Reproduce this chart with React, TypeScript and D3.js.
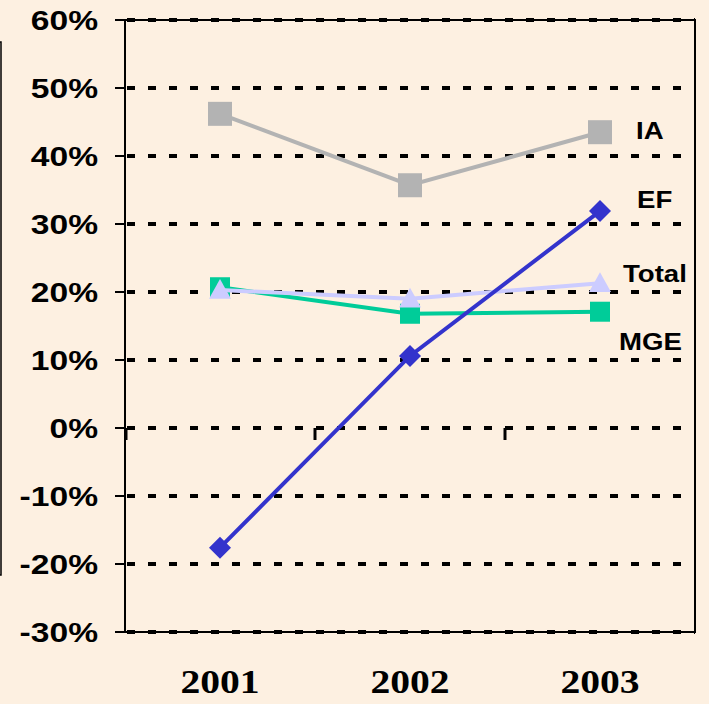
import React from "react";
import * as d3 from "d3";

const years = ["2001", "2002", "2003"];
const yTicks = [60, 50, 40, 30, 20, 10, 0, -10, -20, -30];
const iaValues = [46.2, 35.7, 43.5];
const efValues = [-17.6, 10.6, 31.9];
const totalValues = [20.3, 19.0, 21.3];
const mgeValues = [20.7, 16.8, 17.1];

const W = 709, H = 704;
const left = 125, right = 695, top = 20, bottom = 632;
const bg = "#fdf0e1";

const series = [
  { name: "IA", values: iaValues, color: "#b3b3b3", marker: "square", size: 24, lx: 636, ly: 139 },
  { name: "MGE", values: mgeValues, color: "#00cc99", marker: "square", size: 20, lx: 619, ly: 350 },
  { name: "Total", values: totalValues, color: "#ccccff", marker: "triangle", size: 22, lx: 623, ly: 282 },
  { name: "EF", values: efValues, color: "#3333cc", marker: "diamond", size: 20, lx: 637, ly: 208 },
];

export default function App() {
  const x = d3.scaleBand().domain(years).range([left, right]);
  const y = d3.scaleLinear().domain([-30, 60]).range([bottom, top]);
  const cx = (i: number) => (x(years[i]) as number) + x.bandwidth() / 2;

  const line = d3.line<number>().x((_, i) => cx(i)).y(v => y(v));

  const marker = (s: typeof series[0], v: number, i: number) => {
    const px = cx(i), py = y(v), r = s.size / 2;
    if (s.marker === "square")
      return <rect key={i} x={px - r} y={py - r} width={s.size} height={s.size} fill={s.color} />;
    if (s.marker === "diamond") {
      const d = r * 1.1;
      return <path key={i} d={`M${px},${py - d}L${px + d},${py}L${px},${py + d}L${px - d},${py}Z`} fill={s.color} />;
    }
    return <path key={i} d={`M${px},${py - r}L${px + r},${py + r * 0.8}L${px - r},${py + r * 0.8}Z`} fill={s.color} />;
  };

  const stretch = (tx: number, ty: number) => `translate(${tx},${ty}) scale(1.2,1)`;

  return (
    <svg width={W} height={H} style={{ position: "absolute", left: 0, top: 0, background: bg }}>
      <rect width={W} height={H} fill={bg} />
      {/* left frame fragment */}
      <rect x={-20} y={42} width={21} height={533} fill="none" stroke="#000" strokeWidth={1.5} />

      {/* plot frame */}
      <rect x={left} y={top} width={right - left} height={bottom - top} fill="none" stroke="#000" strokeWidth={2} />

      {/* gridlines */}
      {yTicks.map(t => (
        <g key={t}>
          <line x1={left + 2} x2={right} y1={y(t)} y2={y(t)} stroke="#000" strokeWidth={4} strokeDasharray="8,13" />
          <line x1={left - 10} x2={left} y1={y(t)} y2={y(t)} stroke="#000" strokeWidth={2} />
          <text transform={stretch(98, y(t) + 10)} textAnchor="end" fontFamily="Liberation Sans, Arial" fontWeight="bold" fontSize={28} fill="#000">
            {t}%
          </text>
        </g>
      ))}

      {/* category ticks on zero line */}
      {years.map((yr, i) => (
        <line key={yr} x1={(x(yr) as number) + (i === 0 ? 1 : 0)} x2={(x(yr) as number) + (i === 0 ? 1 : 0)} y1={y(0)} y2={y(0) + 12} stroke="#000" strokeWidth={3} />
      ))}

      {/* series */}
      {series.map(s => (
        <g key={s.name}>
          <path d={line(s.values) as string} fill="none" stroke={s.color} strokeWidth={4} />
          {s.values.map((v, i) => marker(s, v, i))}
        </g>
      ))}

      {/* series labels */}
      {series.map(s => (
        <text key={s.name} transform={stretch(s.lx, s.ly)} fontFamily="Liberation Sans, Arial" fontWeight="bold" fontSize={23} fill="#000">
          {s.name}
        </text>
      ))}

      {/* x labels */}
      {years.map((yr, i) => (
        <text key={yr} transform={stretch(cx(i), 693)} textAnchor="middle" fontFamily="Liberation Serif, Times New Roman" fontWeight="bold" fontSize={33} fill="#000">
          {yr}
        </text>
      ))}
    </svg>
  );
}
